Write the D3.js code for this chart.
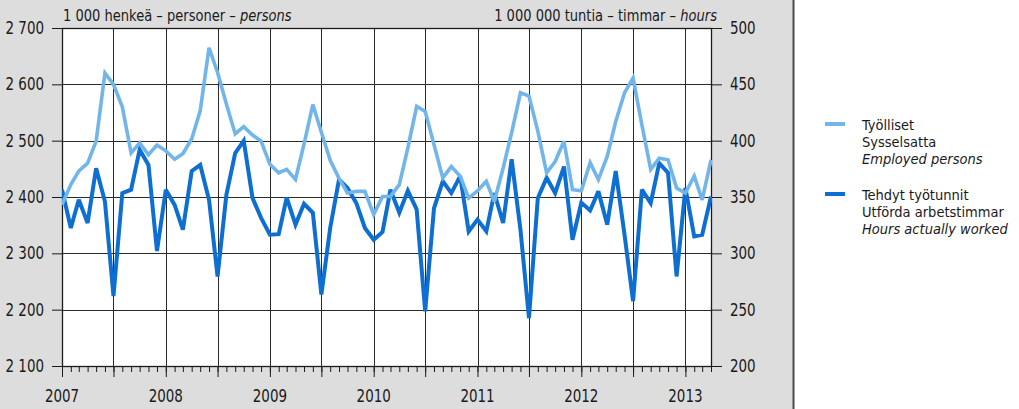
<!DOCTYPE html>
<html>
<head>
<meta charset="utf-8">
<script src="https://cdn.jsdelivr.net/npm/d3@7"></script>
<style>
  html, body { margin: 0; padding: 0; background: #ffffff; }
  svg { display: block; }
  text { font-family: "Liberation Sans Narrow", "DejaVu Sans Condensed", "Roboto", sans-serif; fill: #1a1a1a; }
</style>
</head>
<body>
<svg id="chart" width="1019" height="409"></svg>
<script>
// Monthly series, January 2007 – April 2013
const startMonth = new Date(2007, 0, 1);
const endMonth = new Date(2013, 3, 1);

// Employed persons, 1 000 persons (left axis)
const employed = [
  2386, 2422, 2446, 2460, 2499, 2620, 2600, 2560, 2478, 2496, 2475, 2492,
  2482, 2467, 2477, 2503, 2553, 2665, 2621, 2565, 2512, 2525, 2510, 2499,
  2458, 2443, 2449, 2431, 2494, 2564, 2515, 2465, 2433, 2407, 2410, 2410,
  2369, 2401, 2401, 2422, 2487, 2561, 2552, 2493, 2434, 2454, 2437, 2398,
  2411, 2428, 2392, 2451, 2514, 2585, 2579, 2517, 2443, 2463, 2499, 2413,
  2411, 2461, 2431, 2472, 2534, 2585, 2611, 2528, 2449, 2469, 2466, 2416,
  2407, 2437, 2395, 2466
];

// Hours actually worked, 1 000 000 hours (right axis)
const hoursWorked = [
  356.5, 322.5, 347.5, 327.0, 375.5, 346.0, 262.0, 353.5, 356.5, 392.0, 378.5, 302.0,
  356.5, 343.0, 321.0, 373.0, 378.5, 347.5, 279.5, 352.0, 389.0, 400.0, 349.0, 331.5,
  316.5, 317.0, 349.5, 325.5, 344.0, 336.0, 263.5, 322.5, 365.5, 358.0, 344.5, 322.5,
  312.0, 319.0, 356.5, 336.0, 355.5, 339.0, 248.5, 340.0, 364.0, 353.5, 368.5, 319.5,
  330.0, 319.5, 353.5, 327.0, 383.5, 321.0, 242.5, 349.0, 367.0, 353.5, 377.0, 312.0,
  345.0, 338.0, 355.0, 325.5, 373.0, 316.5, 257.5, 356.5, 344.5, 380.0, 371.5, 279.5,
  358.0, 315.0, 316.5, 350.5
];

const leftTicks = [2100, 2200, 2300, 2400, 2500, 2600, 2700];
const rightTicks = [200, 250, 300, 350, 400, 450, 500];
const yearLabels = ["2007", "2008", "2009", "2010", "2011", "2012", "2013"];

const leftUnit = "1 000 henkeä – personer – ";
const leftUnitItalic = "persons";
const rightUnit = "1 000 000 tuntia – timmar – ";
const rightUnitItalic = "hours";

const legendItems = [
  { lines: ["Työlliset", "Sysselsatta", "Employed persons"], color: "#72b5ea" },
  { lines: ["Tehdyt työtunnit", "Utförda arbetstimmar", "Hours actually worked"], color: "#0d6fd1" }
];

const months = d3.timeMonth.range(startMonth, d3.timeMonth.offset(endMonth, 1));

const svg = d3.select("#chart");
const W = 1019, H = 409;
const plot = { left: 62, right: 711, top: 28, bottom: 366 };
const SX = 0.88; // horizontal squeeze for the condensed typeface

// Text helper: parts = [[string, italic?], ...]
function label(parent, px, py, anchor, parts, size, sx = SX) {
  const t = parent.append("text")
    .attr("transform", `translate(${px},${py}) scale(${sx},1)`)
    .attr("text-anchor", anchor)
    .attr("font-size", size);
  parts.forEach(([s, it]) => t.append("tspan").attr("font-style", it ? "italic" : "normal").text(s));
  return t;
}

// Panel backgrounds
svg.append("rect").attr("x", 0).attr("y", 0).attr("width", 794).attr("height", H).attr("fill", "#dddddd");
svg.append("rect").attr("x", 794).attr("y", 0).attr("width", W - 794).attr("height", H).attr("fill", "#ffffff");
svg.append("line").attr("x1", 793.5).attr("x2", 793.5).attr("y1", 0).attr("y2", H)
  .attr("stroke", "#4a4a4a").attr("stroke-width", 2);

const x = d3.scaleTime().domain([startMonth, endMonth]).range([plot.left, plot.right]);
const yL = d3.scaleLinear().domain([2100, 2700]).range([plot.bottom, plot.top]);
const yR = d3.scaleLinear().domain([200, 500]).range([plot.bottom, plot.top]);

svg.append("rect")
  .attr("x", plot.left).attr("y", plot.top)
  .attr("width", plot.right - plot.left).attr("height", plot.bottom - plot.top)
  .attr("fill", "#ffffff");

const fmt = d3.formatLocale({ decimal: ",", thousands: "\u00a0", grouping: [3], currency: ["", ""] }).format(",");

// Horizontal grid
svg.append("g").selectAll("line").data(leftTicks).join("line")
  .attr("x1", plot.left).attr("x2", plot.right)
  .attr("y1", d => Math.round(yL(d)) + 0.5).attr("y2", d => Math.round(yL(d)) + 0.5)
  .attr("stroke", "#2a2a2a").attr("stroke-width", 1);

// Vertical grid every half year
const halfYears = months.filter(d => d.getMonth() % 6 === 0);
svg.append("g").selectAll("line").data(halfYears).join("line")
  .attr("x1", d => Math.round(x(d)) + 0.5).attr("x2", d => Math.round(x(d)) + 0.5)
  .attr("y1", plot.top).attr("y2", plot.bottom)
  .attr("stroke", "#2a2a2a").attr("stroke-width", 1);

// Frame
svg.append("rect")
  .attr("x", plot.left + 0.5).attr("y", plot.top + 0.5)
  .attr("width", plot.right - plot.left).attr("height", plot.bottom - plot.top)
  .attr("fill", "none").attr("stroke", "#1a1a1a").attr("stroke-width", 1.3);

// Left axis ticks
const axL = svg.append("g").attr("transform", `translate(${plot.left},0)`)
  .call(d3.axisLeft(yL).tickValues(leftTicks).tickSize(10).tickFormat(""));
axL.select(".domain").remove();
axL.selectAll("line").attr("stroke", "#1a1a1a");
const gL = svg.append("g");
leftTicks.forEach(v => label(gL, 44, yL(v) + 6, "end", [[fmt(v), false]], 17));

// Right axis ticks
const axR = svg.append("g").attr("transform", `translate(${plot.right},0)`)
  .call(d3.axisRight(yR).tickValues(rightTicks).tickSize(11).tickFormat(""));
axR.select(".domain").remove();
axR.selectAll("line").attr("stroke", "#1a1a1a");
const gR = svg.append("g");
rightTicks.forEach(v => label(gR, 730, yR(v) + 6, "start", [[String(v), false]], 17));

// Bottom axis: monthly minor ticks, half-year major ticks, year labels
const axB = svg.append("g").attr("transform", `translate(0,${plot.bottom})`)
  .call(d3.axisBottom(x).tickValues(months).tickSize(6).tickFormat(""));
axB.select(".domain").remove();
axB.selectAll("line").attr("stroke", "#1a1a1a");
const axB2 = svg.append("g").attr("transform", `translate(0,${plot.bottom})`)
  .call(d3.axisBottom(x).tickValues(halfYears).tickSize(11).tickFormat(""));
axB2.select(".domain").remove();
axB2.selectAll("line").attr("stroke", "#1a1a1a");

const gB = svg.append("g");
yearLabels.forEach(y => label(gB, x(new Date(+y, 0, 1)), 402, "middle", [[y, false]], 17));

// Unit captions
label(svg, plot.left + 1, 21, "start", [[leftUnit, false], [leftUnitItalic, true]], 16.5);
label(svg, plot.right + 6, 21, "end", [[rightUnit, false], [rightUnitItalic, true]], 16.5);

// Series lines
svg.append("clipPath").attr("id", "plotclip").append("rect")
  .attr("x", plot.left).attr("y", plot.top - 5)
  .attr("width", plot.right - plot.left + 1).attr("height", plot.bottom - plot.top + 10);

const hoursLine = d3.line().x((d, i) => x(months[i])).y(d => yR(d));
const empLine = d3.line().x((d, i) => x(months[i])).y(d => yL(d));

svg.append("path").datum(hoursWorked)
  .attr("d", hoursLine).attr("fill", "none")
  .attr("stroke", legendItems[1].color).attr("stroke-width", 4)
  .attr("stroke-linejoin", "miter").attr("stroke-miterlimit", 3)
  .attr("clip-path", "url(#plotclip)");

svg.append("path").datum(employed)
  .attr("d", empLine).attr("fill", "none")
  .attr("stroke", legendItems[0].color).attr("stroke-width", 3.6)
  .attr("stroke-linejoin", "miter").attr("stroke-miterlimit", 3)
  .attr("clip-path", "url(#plotclip)");

// Legend
const lg = svg.append("g");
const legendTop = [130, 200];
legendItems.forEach((item, k) => {
  const base = legendTop[k];
  lg.append("line")
    .attr("x1", 825).attr("x2", 845)
    .attr("y1", base - 6).attr("y2", base - 6)
    .attr("stroke", item.color).attr("stroke-width", 4);
  item.lines.forEach((t, j) => label(lg, 862, base + j * 17, "start", [[t, j === 2]], 14.5, 1.0));
});
</script>
</body>
</html>
